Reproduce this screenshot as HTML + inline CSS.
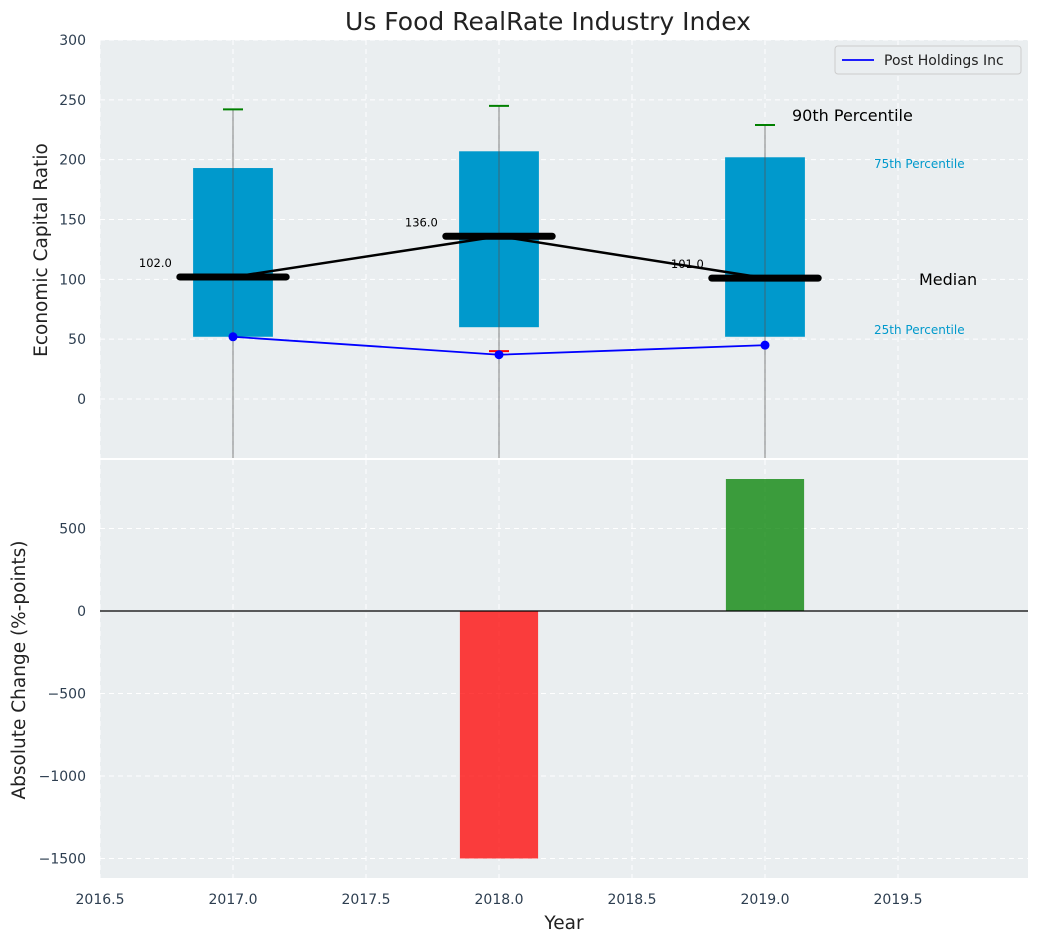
<!DOCTYPE html>
<html><head><meta charset="utf-8"><style>
body{margin:0;background:#fff;font-family:"Liberation Sans","DejaVu Sans",sans-serif}
svg text{font-family:"DejaVu Sans","Liberation Sans",sans-serif}
</style></head><body>
<svg id="c" width="1039" height="942" xmlns="http://www.w3.org/2000/svg"></svg>
<script>
const years=[2017,2018,2019];
const q25=[52,60,52];
const q75=[193,207,202];
const medians=[102,136,101];
const p90=[242,245,229];
const lowCap=[null,40,null];
const company=[52,37,45];
const changes=[0,-1500,800];
const topTicks=[0,50,100,150,200,250,300];
const botTicks=[-1500,-1000,-500,0,500];
const xTicks=[2016.5,2017,2017.5,2018,2018.5,2019,2019.5];

const NS="http://www.w3.org/2000/svg";
const svg=document.getElementById('c');
function el(t,a,p){const e=document.createElementNS(NS,t);for(const k in a)e.setAttribute(k,a[k]);(p||svg).appendChild(e);return e;}
function X(v){return 100+(v-2016.5)*266;}
function Y1(v){return 399-v*359/300;}
function Y2(v){return 611-v*0.165;}
const L=100,R=1028;

let e;
e=el('rect',{x:L,y:40,width:R-L,height:418,fill:'#eaeef0'});


e=el('rect',{x:L,y:460,width:R-L,height:418,fill:'#eaeef0'});



xTicks.forEach(t=>{[[40,458],[460,878]].forEach(r=>{el('line',{x1:X(t),x2:X(t),y1:r[0],y2:r[1],stroke:'#fff','stroke-dasharray':'5,4','stroke-width':1});});});
topTicks.forEach(t=>{el('line',{x1:L,x2:R,y1:Y1(t),y2:Y1(t),stroke:'#fff','stroke-dasharray':'5,4'});
 e=el('text',{x:86,y:Y1(t)+5,'text-anchor':'end','font-size':14,fill:'#2d3e50'});e.textContent=t;
 });
botTicks.forEach(t=>{el('line',{x1:L,x2:R,y1:Y2(t),y2:Y2(t),stroke:'#fff','stroke-dasharray':'5,4'});
 e=el('text',{x:86,y:Y2(t)+5,'text-anchor':'end','font-size':14,fill:'#2d3e50'});e.textContent=t<0?'\u2212'+(-t):t;
 });
xTicks.forEach(t=>{e=el('text',{x:X(t),y:904,'text-anchor':'middle','font-size':14,fill:'#2d3e50'});e.textContent=t.toFixed(1);
 });

years.forEach((y,i)=>{
 e=el('rect',{x:X(y-0.15),y:Y1(q75[i]),width:0.3*266,height:Y1(q25[i])-Y1(q75[i]),fill:'#0099cc'});
 
 el('line',{x1:X(y),x2:X(y),y1:Y1(p90[i]),y2:458,stroke:'#555','stroke-opacity':0.6,'stroke-width':1.2});
 el('line',{x1:X(y)-10,x2:X(y)+10,y1:Y1(p90[i]),y2:Y1(p90[i]),stroke:'green','stroke-width':2});
 if(lowCap[i]!==null)el('line',{x1:X(y)-10,x2:X(y)+10,y1:Y1(lowCap[i]),y2:Y1(lowCap[i]),stroke:'red','stroke-width':2});
});
e=el('polyline',{points:years.map((y,i)=>X(y)+','+Y1(medians[i])).join(' '),fill:'none',stroke:'#000','stroke-width':2.5});

years.forEach((y,i)=>{
 e=el('line',{x1:X(y-0.2),x2:X(y+0.2),y1:Y1(medians[i]),y2:Y1(medians[i]),stroke:'#000','stroke-width':7,'stroke-linecap':'round'});
 
 e=el('text',{x:X(y-0.23),y:Y1(medians[i])-10,'text-anchor':'end','font-size':11.5,fill:'#000'});e.textContent=medians[i].toFixed(1);
 
});
e=el('polyline',{points:years.map((y,i)=>X(y)+','+Y1(company[i])).join(' '),fill:'none',stroke:'#0000ff','stroke-width':1.8});

years.forEach((y,i)=>{e=el('circle',{cx:X(y),cy:Y1(company[i]),r:4.5,fill:'#0000ff'});
 });

[['90th Percentile',792,121,16,'#000'],['75th Percentile',874,168,12,'#0099cc'],['Median',919,285,16,'#000'],['25th Percentile',874,334,12,'#0099cc']].forEach(a=>{
 e=el('text',{x:a[1],y:a[2],'font-size':a[3],fill:a[4]});e.textContent=a[0];
 });

const g=el('g',{});
el('rect',{x:835,y:46,width:186,height:28,rx:3,fill:'#eaeef0',stroke:'#ccc'},g);
el('line',{x1:842,x2:874,y1:60,y2:60,stroke:'#0000ff','stroke-width':1.8},g);
e=el('text',{x:884,y:65,'font-size':14,fill:'#222'},g);e.textContent='Post Holdings Inc';

years.forEach((y,i)=>{if(changes[i]===0)return;
 const v=changes[i];
 e=el('rect',{x:X(y-0.147),y:Math.min(Y2(0),Y2(v)),width:0.294*266,height:Math.abs(Y2(v)-Y2(0)),fill:v<0?'#ff0000':'#008000','fill-opacity':0.75});
 });
el('line',{x1:L,x2:R,y1:Y2(0),y2:Y2(0),stroke:'#000','stroke-width':1.2});

e=el('text',{x:548,y:30,'text-anchor':'middle','font-size':25,fill:'#222'});e.textContent='Us Food RealRate Industry Index';

e=el('text',{x:0,y:0,'text-anchor':'middle','font-size':18.5,fill:'#222',transform:'translate(47,250) rotate(-90)'});e.textContent='Economic Capital Ratio';

e=el('text',{x:0,y:0,'text-anchor':'middle','font-size':18.5,fill:'#222',transform:'translate(25,670) rotate(-90)'});e.textContent='Absolute Change (%-points)';

e=el('text',{x:564,y:929,'text-anchor':'middle','font-size':18.5,fill:'#222'});e.textContent='Year';

</script>
</body></html>
